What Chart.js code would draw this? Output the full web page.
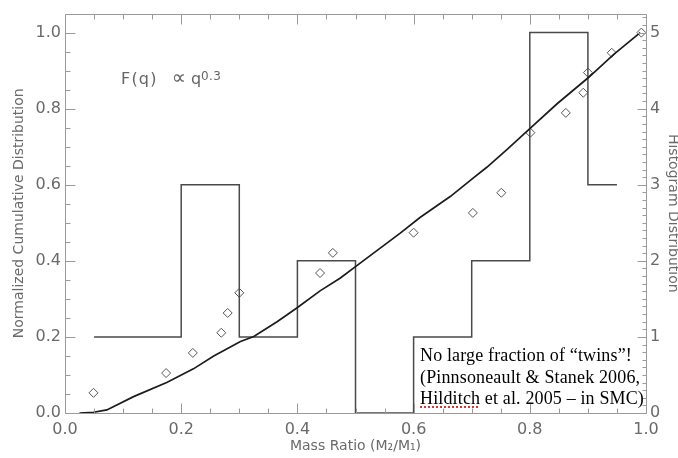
<!DOCTYPE html>
<html><head><meta charset="utf-8">
<script src="https://cdn.jsdelivr.net/npm/chart.js@4"></script>
<style>
html,body{margin:0;padding:0;background:#fff;}
#wrap{position:relative;width:678px;height:458px;overflow:hidden;}
canvas{display:block;}
.ann{position:absolute;white-space:nowrap;}
#formula{left:121px;top:66px;font:16px "DejaVu Sans",sans-serif;line-height:20px;color:#666;}
#formula .f{letter-spacing:1.2px;}
#formula .pr{font-size:20px;}
#formula .sup{font-size:12px;vertical-align:3.5px;letter-spacing:0.3px;}
#note{left:420px;top:345px;font:18px "Liberation Serif","Times New Roman",serif;color:#000;line-height:21.7px;letter-spacing:0.15px;}
#note .sp{text-decoration:underline dotted #e03030;text-decoration-thickness:2px;text-underline-offset:2px;}
</style></head>
<body>
<div id="wrap">
<canvas id="c" width="678" height="458"></canvas>
<div class="ann" id="formula"><span class="f">F(q)</span><span class="pr" style="margin-left:14px">∝</span><span style="margin-left:5px">q</span><span class="sup">0.3</span></div>
<div class="ann" id="note">No large fraction of “twins”!<br>(Pinnsoneault &amp; Stanek 2006,<br><span class="sp">Hilditch</span> et al. 2005 – in SMC)</div>
</div>
<script>
// Model cumulative curve F(q)
const curveQ = [0.025,0.049,0.072,0.118,0.176,0.221,0.256,0.302,0.325,0.365,0.399,0.439,0.474,0.500,0.577,0.611,0.663,0.703,0.726,0.761,0.801,0.847,0.901,0.944,0.990];
const curveF = [0.000,0.002,0.008,0.043,0.081,0.116,0.150,0.188,0.201,0.240,0.276,0.321,0.355,0.385,0.473,0.514,0.569,0.618,0.646,0.693,0.749,0.813,0.882,0.942,1.000];
// Observed cumulative distribution (diamonds)
const obsQ = [0.049,0.174,0.220,0.269,0.280,0.300,0.439,0.461,0.600,0.702,0.751,0.801,0.862,0.892,0.900,0.941,0.992];
const obsF = [0.053,0.105,0.158,0.211,0.263,0.316,0.368,0.421,0.474,0.526,0.579,0.737,0.789,0.842,0.895,0.947,1.000];
// Histogram bins (right axis)
const binStart = [0.05,0.2,0.3,0.4,0.5,0.6,0.7,0.8,0.9];
const binEnd   = [0.2,0.3,0.4,0.5,0.6,0.7,0.8,0.9,0.95];
const binCount = [1,3,1,2,0,1,2,5,3];
// Tick labels
const xTickLabels = ['0.0','0.2','0.4','0.6','0.8','1.0'];
const yTickLabels = ['0.0','0.2','0.4','0.6','0.8','1.0'];
const y2TickLabels = ['0','1','2','3','4','5'];

const curveData = curveQ.map((q,i)=>({x:q,y:curveF[i]}));
const obsData = obsQ.map((q,i)=>({x:q,y:obsF[i]}));
const histData = [];
binStart.forEach((s,i)=>{ histData.push({x:s,y:binCount[i]}); histData.push({x:binEnd[i],y:binCount[i]}); });

const AX = '#9a9a9a', TXT = '#6a6a6a';
const tickPlugin = {
  id:'inTicks',
  afterDraw(chart){
    const {ctx, chartArea:a, scales} = chart;
    const L = Math.round(a.left)+0.5, R = Math.round(a.right)+0.5, T = Math.round(a.top)+0.5, B = Math.round(a.bottom)+0.5;
    ctx.save();
    ctx.strokeStyle = AX; ctx.lineWidth = 1;
    ctx.beginPath();
    ctx.rect(L, T, R-L, B-T);
    for(let i=0;i<=20;i++){
      const px = Math.round(scales.x.getPixelForValue(i*0.05))+0.5;
      const len = i%4===0 ? 10 : 5;
      ctx.moveTo(px,B); ctx.lineTo(px,B-len);
      ctx.moveTo(px,T); ctx.lineTo(px,T+len);
    }
    for(let i=0;i<=20;i++){
      const py = Math.round(scales.y.getPixelForValue(i*0.05))+0.5;
      const len = i%4===0 ? 10 : 5;
      ctx.moveTo(L,py); ctx.lineTo(L+len,py);
    }
    for(let i=0;i<=52;i++){
      const py = Math.round(scales.y2.getPixelForValue(i*0.1))+0.5;
      const len = i%10===0 ? 9 : 4;
      ctx.moveTo(R,py); ctx.lineTo(R-len,py);
    }
    ctx.stroke();
    ctx.restore();
  }
};

new Chart(document.getElementById('c'), {
  type:'scatter',
  data:{datasets:[
    {label:'model', data:curveData, showLine:true, borderColor:'#1c1c1c', borderWidth:1.7, pointRadius:0, tension:0, yAxisID:'y'},
    {label:'hist', data:histData, showLine:true, borderColor:'#4a4a4a', borderWidth:1.5, pointRadius:0, tension:0, yAxisID:'y2'},
    {label:'obs', data:obsData, showLine:false, pointStyle:'rectRot', pointRadius:4.5, borderColor:'#555', borderWidth:1, backgroundColor:'rgba(0,0,0,0)', yAxisID:'y'}
  ]},
  options:{
    responsive:false, animation:false, devicePixelRatio:1,
    layout:{padding:{top:5,left:0,right:0,bottom:0}},
    plugins:{legend:{display:false}, tooltip:{enabled:false}},
    scales:{
      x:{type:'linear', position:'bottom', min:0, max:1,
         grid:{display:false, drawTicks:false}, border:{display:false},
         ticks:{stepSize:0.2, padding:7, color:TXT, font:{family:'DejaVu Sans', size:16}, maxRotation:0, autoSkip:false,
                callback:(v)=>{const i=Math.round(v/0.2); return Math.abs(v-i*0.2)<1e-6 ? xTickLabels[i] : '';}},
         title:{display:true, text:'Mass Ratio (M₂/M₁)', color:TXT, font:{family:'DejaVu Sans', size:14}, padding:{top:0,bottom:3}},
         afterFit:(s)=>{s.height=45;}},
      y:{type:'linear', position:'left', min:0, max:1.05,
         grid:{display:false, drawTicks:false}, border:{display:false},
         ticks:{stepSize:0.2, includeBounds:false, padding:4, color:TXT, font:{family:'DejaVu Sans', size:16},
                callback:(v)=>{const i=Math.round(v/0.2); return Math.abs(v-i*0.2)<1e-6 ? yTickLabels[i] : '';}},
         title:{display:true, text:'Normalized Cumulative Distribution', color:TXT, font:{family:'DejaVu Sans', size:14}, padding:{top:11,bottom:0}},
         afterFit:(s)=>{s.width=65;}},
      y2:{type:'linear', position:'right', min:0, max:5.25,
         grid:{display:false, drawTicks:false}, border:{display:false},
         ticks:{stepSize:1, includeBounds:false, padding:4, color:TXT, font:{family:'DejaVu Sans', size:16},
                callback:(v)=>{const i=Math.round(v); return Math.abs(v-i)<1e-6 ? y2TickLabels[i] : '';}},
         title:{display:true, text:'Histogram Distribution', color:TXT, font:{family:'DejaVu Sans', size:14, lineHeight:0.75}, padding:{top:0,bottom:0}},
         afterFit:(s)=>{s.width=32;}}
    }
  },
  plugins:[tickPlugin]
});
</script>
</body></html>
